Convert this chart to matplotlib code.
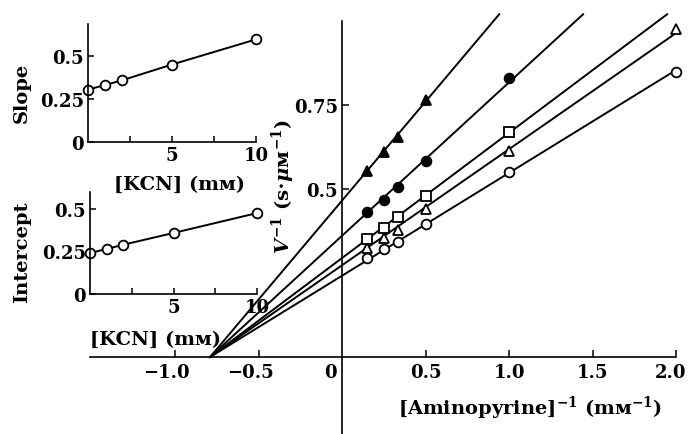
import numpy as np
import matplotlib
matplotlib.use("Agg")
import matplotlib.pyplot as plt
import matplotlib.transforms as mtransforms

plt.rcParams['font.family'] = ['DejaVu Serif']
plt.rcParams['font.weight'] = 'bold'
plt.rcParams['mathtext.fontset'] = 'custom'
plt.rcParams['mathtext.rm'] = 'DejaVu Serif:bold'
plt.rcParams['mathtext.it'] = 'DejaVu Serif:italic:bold'
plt.rcParams['mathtext.bf'] = 'DejaVu Serif:bold'
plt.rcParams['font.size'] = 14

# insets: KCN dependence of slope and intercept
kcn = [0, 1, 2, 5, 10]
slope = [0.306, 0.333, 0.36, 0.453, 0.60]
intercept = [0.241, 0.265, 0.29, 0.359, 0.476]

# main plot: 1/[aminopyrine] vs 1/V at each KCN level
inv_ap = [0.15, 0.25, 0.333, 0.5, 1.0, 2.0]
v_kcn0 = [0.295, 0.321, 0.343, 0.396, 0.55, 0.849]
v_kcn1 = [0.324, 0.353, 0.378, 0.44, 0.614, 0.976]
v_kcn2 = [0.351, 0.384, 0.416, 0.48, 0.671]
v_kcn5 = [0.431, 0.468, 0.505, 0.584, 0.829]
v_kcn10 = [0.554, 0.611, 0.656, 0.766]
x_conv = -0.79  # common point where all lines meet the x axis

series = [
    (v_kcn0, 'o', 'white', 7),
    (v_kcn1, '^', 'white', 7.5),
    (v_kcn2, 's', 'white', 6.5),
    (v_kcn5, 'o', 'black', 7),
    (v_kcn10, '^', 'black', 7.5),
]

W, H = 690, 435
fig = plt.figure(figsize=(6.9, 4.35), dpi=100)

# main axes fills the figure; data origin at pixel (342, 358)
ax = fig.add_axes([0, 0, 1, 1])
ax.set_xlim(-342 / 167, (W - 342) / 167)
ax.set_ylim(-(H - 358) / 336, 358 / 336)
ax.patch.set_alpha(0)
for s in ['top', 'right']:
    ax.spines[s].set_visible(False)
ax.spines['left'].set_position(('data', 0))
ax.spines['bottom'].set_position(('data', 0))
ax.spines['left'].set_bounds(ax.get_ylim()[0], 1.0)
ax.spines['bottom'].set_bounds(-1.51, 2.0)
ax.spines['left'].set_linewidth(1.2)
ax.spines['bottom'].set_linewidth(1.2)

for yv, m, fc, ms in series:
    xs = np.array(inv_ap[:len(yv)])
    ys = np.array(yv)
    # least squares line through the common x-axis point
    a = np.sum((xs - x_conv) * ys) / np.sum((xs - x_conv) ** 2)
    x1 = min(2.0, x_conv + 1.02 / a)
    ax.plot([x_conv, x1], [0, a * (x1 - x_conv)], color='black', lw=1.4, zorder=2)
    ax.plot(xs, ys, linestyle='none', marker=m, ms=ms, mfc=fc, mec='black',
            mew=1.3, zorder=3, clip_on=False)

ax.set_xticks([-1.0, -0.5, 0.5, 1.0, 1.5, 2.0])
ax.set_xticklabels(['\u22121.0', '\u22120.5', '0.5', '1.0', '1.5', '2.0'])
ax.set_yticks([0.5, 0.75])
ax.set_yticklabels(['0.5', '0.75'])
ax.tick_params(axis='both', labelsize=13)
ax.tick_params(axis='x', direction='in', length=5, width=1.1, pad=4)
ax.tick_params(axis='y', direction='in', length=5, width=1.1, pad=3)
# the printed labels sit a little left of their ticks
shifts = [-9, -8, 0, 0, 0, -5]
for lab, dx in zip(ax.get_xticklabels(), shifts):
    lab.set_transform(lab.get_transform() +
                      mtransforms.ScaledTranslation(dx / 100, 0, fig.dpi_scale_trans))
ax.annotate('0', xy=(0, 0), xytext=(-4, -4), textcoords='offset points',
            ha='right', va='top', fontsize=13)

fig.text(530 / W, 1 - 408 / H, '[Aminopyrine]$^{-1}$ (m\u043c$^{-1}$)',
         ha='center', va='center')
fig.text(283 / W, 1 - 187 / H, '$V^{-1}$ (s$\\cdot\\mu$\u043c$^{-1}$)',
         ha='center', va='center', rotation=90)


def inset(left, right, y0, ytop, top_val, vals, ylab, ylab_y, xlab_x, xlab_y):
    iax = fig.add_axes([left / W, 1 - y0 / H, (right - left) / W, (y0 - ytop) / H])
    iax.set_xlim(0, 10)
    iax.set_ylim(0, top_val)
    iax.patch.set_alpha(0)
    for s in ['top', 'right']:
        iax.spines[s].set_visible(False)
    for s in ['left', 'bottom']:
        iax.spines[s].set_linewidth(1.2)
    iax.plot(kcn, vals, color='black', lw=1.4, marker='o', ms=7, mfc='white',
             mec='black', mew=1.3, clip_on=False)
    iax.set_xticks([2.5, 5, 7.5, 10])
    iax.set_xticklabels(['', '5', '', '10'])
    iax.set_yticks([0, 0.25, 0.5])
    iax.set_yticklabels(['0', '0.25', '0.5'])
    iax.tick_params(axis='both', labelsize=13)
    iax.tick_params(axis='x', direction='in', length=4, width=1.1, pad=3)
    iax.tick_params(axis='y', direction='in', length=4, width=1.1, pad=3)
    fig.text(22 / W, 1 - ylab_y / H, ylab, rotation=90, ha='center', va='center')
    fig.text(xlab_x / W, 1 - xlab_y / H, '[KCN] (m\u043c)', ha='center', va='center')
    return iax


inset(88, 256, 143, 25, 0.69, slope, 'Slope', 93, 180, 185)
inset(90, 257, 295, 193, 0.6, intercept, 'Intercept', 252, 155, 340)

fig.savefig('out.png', dpi=100)
